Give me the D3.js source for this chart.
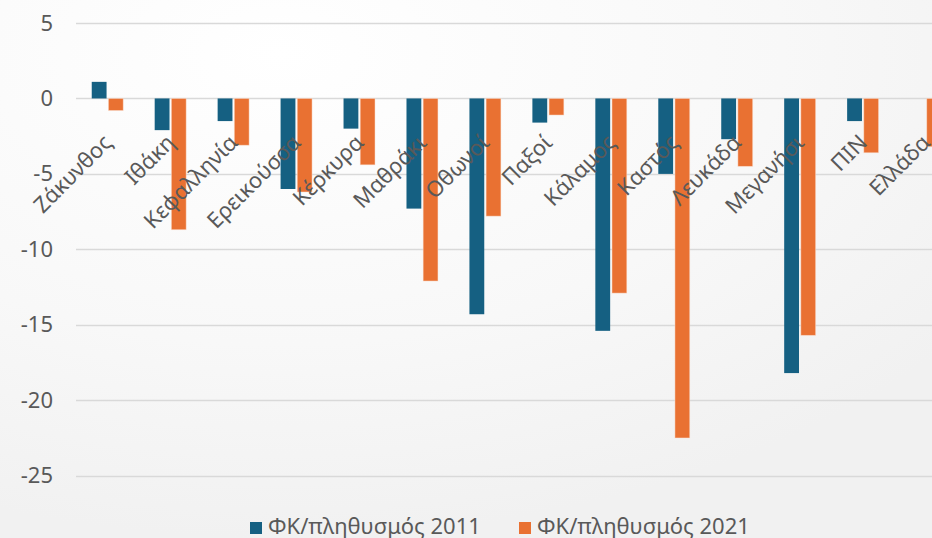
<!DOCTYPE html>
<html><head><meta charset="utf-8">
<script src="https://cdn.jsdelivr.net/npm/d3@7"></script>
<style>
html,body{margin:0;padding:0;}
body{width:932px;height:538px;overflow:hidden;background:#f7f7f7;}
</style></head>
<body>
<svg id="chart" width="932" height="538"></svg>
<script>
const categories = ["Ζάκυνθος","Ιθάκη","Κεφαλληνία","Ερεικούσσα","Κέρκυρα","Μαθράκι","Οθωνοί","Παξοί","Κάλαμος","Καστός","Λευκάδα","Μεγανήσι","ΠΙΝ","Ελλάδα"];
const series2011 = [1.1,-2.1,-1.5,-6.0,-2.0,-7.3,-14.3,-1.6,-15.4,-5.0,-2.7,-18.2,-1.5,null];
const series2021 = [-0.8,-8.7,-3.1,-6.2,-4.4,-12.1,-7.8,-1.1,-12.9,-22.5,-4.5,-15.7,-3.6,-3.2];
const seriesNames = ["ΦΚ/πληθυσμός 2011","ΦΚ/πληθυσμός 2021"];
const seriesColors = ["#156082","#E97132"];
const yTicks = [5,0,-5,-10,-15,-20,-25];

const svg = d3.select("#chart");
const W = 932, H = 538;
const font = "'Noto Sans', 'Liberation Sans', sans-serif";
const textColor = "#595959";

// background
const defs = svg.append("defs");
const rg = defs.append("radialGradient").attr("id","bg").attr("cx","30%").attr("cy","10%").attr("r","90%");
rg.append("stop").attr("offset","0%").attr("stop-color","#ffffff");
rg.append("stop").attr("offset","60%").attr("stop-color","#f8f8f8");
rg.append("stop").attr("offset","100%").attr("stop-color","#f1f1f1");
svg.append("rect").attr("width",W).attr("height",H).attr("fill","url(#bg)");

const plotLeft = 76;
const band = 62.95;
const x = d3.scaleBand().domain(categories).range([plotLeft, plotLeft + band*categories.length]).paddingInner(0).paddingOuter(0);
const y = d3.scaleLinear().domain([-25,5]).range([475.7, 23]);
const xs = d3.scaleBand().domain([0,1]).range([x.bandwidth()*0.25, x.bandwidth()*0.75]).paddingInner(0.11);

// gridlines
svg.append("g").selectAll("line").data(yTicks).join("line")
  .attr("x1",plotLeft).attr("x2",W+10)
  .attr("y1",d=>Math.round(y(d))+0.5).attr("y2",d=>Math.round(y(d))+0.5)
  .attr("stroke","#d9d9d9").attr("stroke-width",1.5);

// y axis labels
const yAxis = d3.axisLeft(y).tickValues(yTicks).tickSize(0).tickPadding(0).tickFormat(d3.format("d"));
const yg = svg.append("g").attr("transform","translate(53,0)").call(yAxis);
yg.select(".domain").remove();
yg.selectAll("text").attr("font-family",font).attr("font-size",22).attr("fill",textColor)
  .text(d=>String(d).replace("\u2212","-"));

// bars
const data = [series2011, series2021];
const groups = svg.append("g");
data.forEach((vals,si)=>{
  groups.append("g").selectAll("rect")
    .data(categories.map((c,i)=>({c,v:vals[i]})).filter(d=>d.v!==null))
    .join("rect")
    .attr("x",d=>x(d.c)+xs(si))
    .attr("width",xs.bandwidth())
    .attr("y",d=>y(Math.max(0,d.v)))
    .attr("height",d=>Math.abs(y(d.v)-y(0)))
    .attr("fill",seriesColors[si])
    .attr("stroke","#fbe3d6").attr("stroke-opacity",si===1?0.6:0).attr("stroke-width",0.8);
});

// category labels
const xAxis = d3.axisBottom(x).tickSize(0).tickPadding(0);
const xg = svg.append("g").attr("transform",`translate(0,${y(0)})`).call(xAxis);
xg.select(".domain").remove();
xg.selectAll(".tick text")
  .attr("font-family",font).attr("font-size",22).attr("fill",textColor)
  .attr("text-anchor","end")
  .attr("dy",null).attr("y",null)
  .attr("transform","translate(-8,32) rotate(-45)")
  .attr("dominant-baseline","hanging");

// legend
const legend = svg.append("g");
const lx = [250, 519];
seriesNames.forEach((n,i)=>{
  legend.append("rect").attr("x",lx[i]).attr("y",522).attr("width",12).attr("height",12).attr("fill",seriesColors[i]);
  legend.append("text").attr("x",lx[i]+18).attr("y",534)
    .attr("font-family",font).attr("font-size",22).attr("fill",textColor).text(n);
});
</script>
</body></html>
